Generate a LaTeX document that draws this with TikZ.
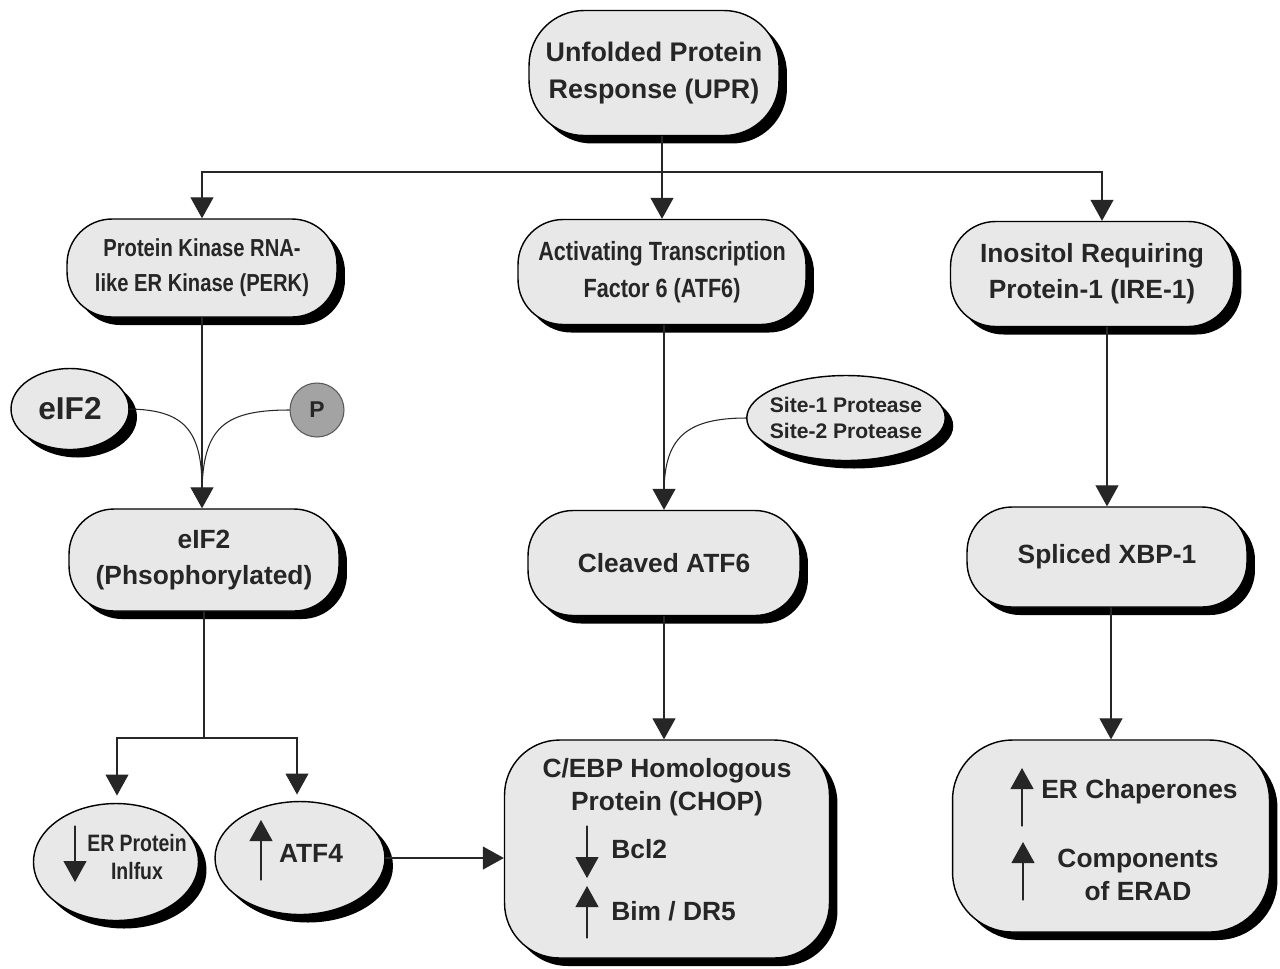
\documentclass[tikz,border=0pt]{standalone}
\usepackage{fontspec}
\setmainfont{Liberation Sans}
\newfontfamily\narrowsans[FakeStretch=0.82]{Liberation Sans}
\usetikzlibrary{arrows.meta,shapes.geometric,shadows,calc}
\definecolor{boxfill}{rgb}{0.91,0.91,0.91}
\definecolor{dotfill}{rgb}{0.64,0.64,0.64}
\definecolor{inkc}{rgb}{0.15,0.15,0.15}

\begin{document}
\begin{tikzpicture}[x=0.02cm, y=-0.02cm, line cap=round,
  arr/.style={-{Triangle[width=0.46cm,length=0.42cm]}, line width=0.6pt, inkc},
  conn/.style={line width=0.6pt, inkc},
  shade/.style={drop shadow={fill=black, opacity=1, shadow xshift=0.16cm, shadow yshift=-0.16cm}},
  pill/.style={draw, line width=0.8pt, fill=boxfill, shade, rounded corners=0.9cm, align=center,
    text=inkc, font=\bfseries\fontsize{15}{20.5}\selectfont, inner sep=0pt},
  narrowpill/.style={pill, font=\narrowsans\bfseries\fontsize{15}{21}\selectfont},
  blob/.style={draw, line width=0.8pt, fill=boxfill, shade, ellipse, inner sep=0pt, text=inkc},
  label/.style={text=inkc, font=\bfseries\fontsize{15}{19}\selectfont, inner sep=0pt, align=center}]
\useasboundingbox (0,0) rectangle (1280,968);
% ---------- 顶部：UPR ----------
\node[pill, rounded corners=1.1cm, minimum width=5.0cm, minimum height=2.5cm,
  font=\bfseries\fontsize{15.3}{21.5}\selectfont] (upr) at (654,73) {Unfolded Protein\\Response (UPR)};
% ---------- 三条通路 ----------
\node[narrowpill, font=\narrowsans\bfseries\fontsize{14}{20}\selectfont,
  minimum width=5.4cm, minimum height=1.96cm] (perk) at (202,268) {Protein Kinase RNA-\\like ER Kinase (PERK)};
\node[narrowpill, minimum width=5.76cm, minimum height=2.1cm] (atf6) at (662,272) {Activating Transcription\\Factor 6 (ATF6)};
\node[pill, minimum width=5.66cm, minimum height=2.1cm] (ire) at (1092,274) {Inositol Requiring\\Protein-1 (IRE-1)};
\coordinate (split) at (662,172);
\draw[arr] (upr.south -| atf6.north) -- (atf6.north);
\draw[arr] (split) -| (perk.north);
\draw[arr] (split) -| ($(ire.north)+(10,0)$);
% ---------- PERK 分支 ----------
\node[blob, minimum width=2.36cm, minimum height=1.62cm, font=\bfseries\fontsize{18}{20}\selectfont] (eif) at (70,409) {eIF2};
\node[draw, circle, line width=0.6pt, draw=gray!70!black, fill=dotfill, minimum size=1.08cm, inner sep=0pt,
  text=inkc, font=\bfseries\fontsize{13}{14}\selectfont] (pp) at (317,410) {P};
\node[pill, minimum width=5.4cm, minimum height=2.04cm] (eifp) at (204,560) {eIF2\\(Phsophorylated)};
\coordinate (jn) at (202,488);
\draw[arr] (perk.south) -- (perk.south |- eifp.north);
\draw[conn] (eif.east) .. controls (182,410) and (202,428) .. (jn);
\draw[conn] (pp.west) .. controls (224,410) and (204,428) .. (jn);
\node[blob, minimum width=3.3cm, minimum height=2.34cm] (influx) at (116,862) {};
\node[blob, minimum width=3.4cm, minimum height=2.26cm] (atf4) at (300,858) {};
\coordinate (fork) at (204,738);
\draw[conn] (eifp.south) -- (fork);
\draw[arr, shorten >=0.15cm] (fork) -| (117,803);
\draw[arr, shorten >=0.15cm] (fork) -| (297,802);
\draw[arr] (75,826) -- (75,882);
\node[label, font=\narrowsans\bfseries\fontsize{13.5}{16}\selectfont] at (137,857) {ER Protein\\Inlfux};
\draw[arr] (261,880) -- (261,820);
\node[label] at (311,853) {ATF4};
% ---------- ATF6 分支 ----------
\node[blob, minimum width=3.9cm, minimum height=1.7cm, inner xsep=-0.12cm, inner ysep=0.08cm, align=center,
  font=\bfseries\fontsize{12}{14.5}\selectfont] (site) at (846,418) {Site-1 Protease\\Site-2 Protease};
\node[pill, minimum width=5.44cm, minimum height=2.1cm] (cleaved) at (664,563) {Cleaved ATF6};
\coordinate (jn2) at (664,490);
\draw[arr] (atf6.south -| cleaved.north) -- (cleaved.north);
\draw[conn] (site.west) .. controls (684,418) and (665,440) .. (jn2);
\node[pill, rounded corners=1.1cm, minimum width=6.5cm, minimum height=4.36cm] (chop) at (667,849) {};
\draw[arr] (cleaved.south) -- (cleaved.south |- chop.north);
\draw[arr] (atf4.east) -- (atf4.east -| chop.west);
\node[label] at (667,787) {C/EBP Homologous\\Protein (CHOP)};
\draw[arr] (587,826) -- (587,878);
\node[label, anchor=west] at (611,849) {Bcl2};
\draw[arr] (587,938) -- (587,886);
\node[label, anchor=west] at (611,911) {Bim / DR5};
% ---------- IRE-1 分支 ----------
\node[pill, minimum width=5.6cm, minimum height=2.0cm] (xbp) at (1107,557) {Spliced XBP-1};
\draw[arr] (ire.south -| xbp.north) -- (xbp.north);
\node[pill, rounded corners=1.2cm, minimum width=6.34cm, minimum height=3.84cm] (erad) at (1111,836) {};
\draw[arr] (xbp.south -| erad.north) -- (erad.north);
\draw[arr] (1022,826) -- (1022,768);
\node[label, anchor=west] at (1041,792) {ER Chaperones};
\draw[arr] (1023,900) -- (1023,842);
\node[label] at (1138,875) {Components\\of ERAD};
\end{tikzpicture}
\end{document}
